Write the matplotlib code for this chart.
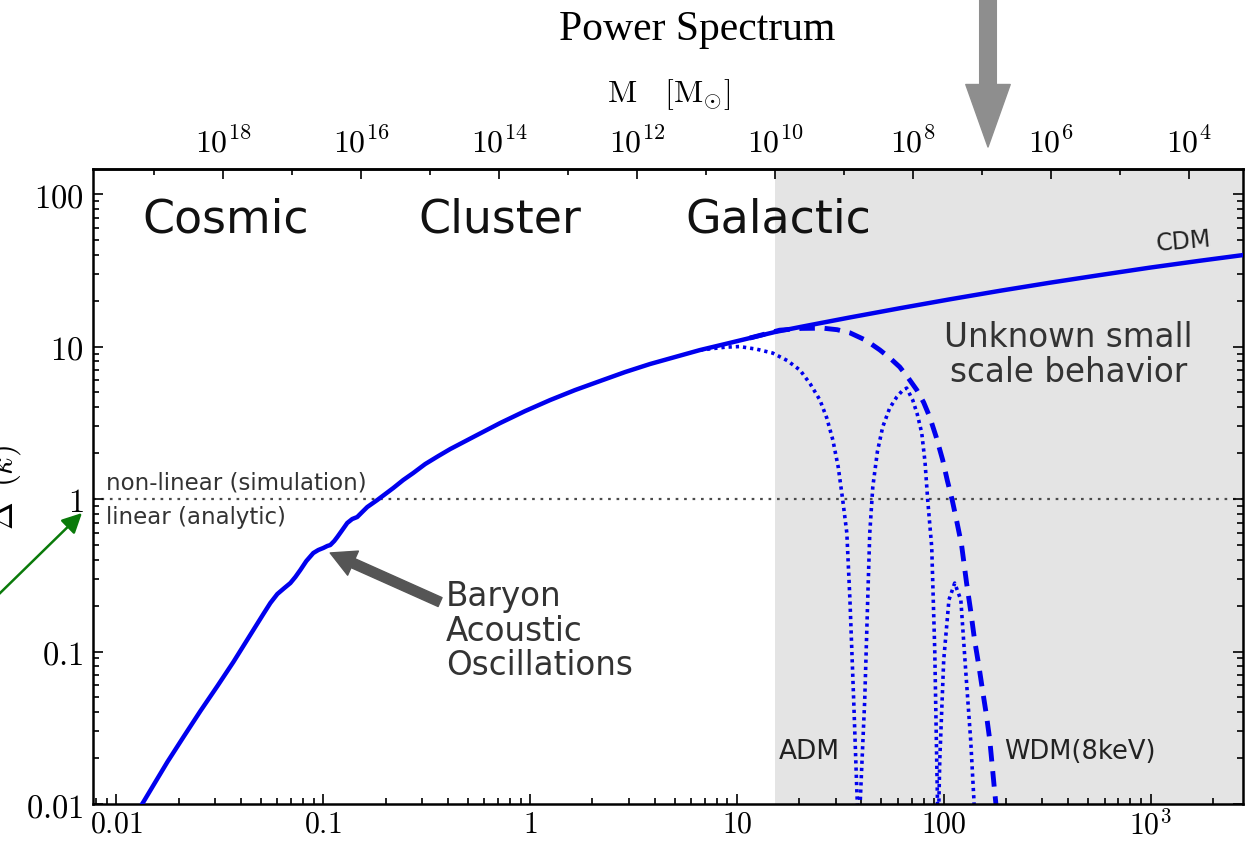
import numpy as np
import matplotlib.pyplot as plt
from matplotlib.ticker import FixedLocator, NullFormatter

plt.rcParams['mathtext.fontset'] = 'cm'

# linear matter power spectrum, Delta^2(k)
cdm_k = [0.0128, 0.01349, 0.01542, 0.01762, 0.02107, 0.02546, 0.03077, 0.03675,
         0.04343, 0.05131, 0.05546, 0.05996, 0.06482, 0.06931, 0.07326, 0.07745,
         0.08278, 0.08948, 0.09461, 0.1000, 0.1046, 0.1081, 0.1130, 0.1169,
         0.1236, 0.1306, 0.1380, 0.1459, 0.1543, 0.1632, 0.1824, 0.1994, 0.2180,
         0.2434, 0.272, 0.311, 0.360, 0.411, 0.542, 0.716, 0.946, 1.250, 1.650,
         2.179, 2.877, 3.80, 5.01, 6.62, 8.75, 11.55, 15.26, 20.15, 26.6, 35.2,
         46.4, 61.3, 107, 186.7, 325, 567, 989, 1725, 2800]
cdm_d = [0.0092, 0.01030, 0.01394, 0.01885, 0.02748, 0.04073, 0.05940, 0.08536,
         0.1227, 0.1762, 0.2080, 0.2383, 0.2608, 0.2812, 0.3080, 0.3423,
         0.3919, 0.4425, 0.4632, 0.4775, 0.4921, 0.4992, 0.5306, 0.5636,
         0.6266, 0.6966, 0.7394, 0.7620, 0.8222, 0.8864, 0.9850, 1.0785, 1.181,
         1.332, 1.48, 1.696, 1.914, 2.127, 2.588, 3.149, 3.775, 4.457, 5.184,
         5.94, 6.80, 7.68, 8.53, 9.48, 10.38, 11.37, 12.45, 13.42, 14.43, 15.52,
         16.63, 17.83, 20.4, 23.2, 26.2, 29.4, 32.9, 36.5, 39.8]

# atomic dark matter (oscillating cut-off)
adm_k = [6.62, 8.75, 10.3, 12.5, 14.9, 17.5, 20.2, 22.6, 25.2, 27.2, 29.1, 30.9,
         32.5, 34.0, 35.2, 36.7, 38.0, 38.8, 39.7, 41.5, 42.9, 43.9, 45.4, 47.8,
         50.7, 54.8, 59.3, 62.8, 66.2, 70.8, 74.5, 78.3, 81.2, 83.7, 87.5, 90.5,
         92.5, 94.0, 95.7, 100, 106, 113, 121, 128, 135, 140, 142]
adm_d = [9.48, 9.9, 10.0, 9.6, 9.06, 8.1, 7.0, 5.7, 4.46, 3.4, 2.44, 1.62,
         0.98, 0.60, 0.218, 0.048, 0.0124, 0.006, 0.0124, 0.048, 0.218, 0.60,
         1.2, 2.05, 2.97, 3.95, 4.67, 5.1, 5.34, 4.46, 3.6, 2.71, 1.75, 0.98,
         0.484, 0.102, 0.0194, 0.006, 0.0194, 0.088, 0.218, 0.281, 0.218, 0.072,
         0.0263, 0.0106, 0.006]

# warm dark matter, 8 keV
wdm_k = [11.55, 16.1, 20.5, 26.0, 30.5, 35.2, 42.0, 49.1, 55.0, 61.3, 67.5, 74.1,
         80.0, 85.6, 92.0, 98.9, 104, 110, 116, 122, 129, 135, 141, 148, 154,
         161, 167, 176, 182]
wdm_d = [11.37, 12.8, 13.15, 13.2, 12.9, 12.3, 11.0, 9.5, 8.4, 7.34, 6.2, 5.19,
         4.3, 3.45, 2.55, 1.80, 1.33, 0.98, 0.70, 0.50, 0.281, 0.185, 0.119,
         0.080, 0.056, 0.038, 0.0263, 0.0124, 0.0079]

k_ticks = [0.01, 0.1, 1, 10, 100, 1000]
k_labels = ['$0.01$', '$0.1$', '$1$', '$10$', '$100$', '$10^3$']
d_ticks = [0.01, 0.1, 1, 10, 100]
d_labels = ['$0.01$', '$0.1$', '$1$', '$10$', '$100$']
m_major = [1e18, 1e16, 1e14, 1e12, 1e10, 1e8, 1e6, 1e4]
m_minor = [1e19, 1e17, 1e15, 1e13, 1e11, 1e9, 1e7, 1e5]

MK3 = 3.56e13  # M [Msun] * k^3


def k_to_m(k):
    k = np.asarray(k, dtype=float)
    with np.errstate(divide='ignore'):
        return MK3 / k**3


def m_to_k(m):
    m = np.asarray(m, dtype=float)
    with np.errstate(divide='ignore'):
        return (MK3 / m) ** (1 / 3)


W, H = 1245, 844
fig = plt.figure(figsize=(W / 100, H / 100), dpi=100)
ax = fig.add_axes([93 / W, 1 - 804 / H, 1150 / W, 635 / H])
ax.set_xscale('log')
ax.set_yscale('log')
ax.set_xlim(0.0077, 2800)
ax.set_ylim(0.01, 146)

ax.axvspan(float(m_to_k(1e10)), 2800, color='#e4e4e4', lw=0, zorder=0)
ax.axhline(1, color='#4a4a4a', lw=1.6, ls=(0, (1.2, 2.6)), zorder=1)

blue = '#0000ee'
ax.plot(adm_k, adm_d, color=blue, lw=2.6, ls=(0, (0.9, 1.1)), zorder=2)
ax.plot(wdm_k, wdm_d, color=blue, lw=3.5, ls=(0, (3.2, 2.0)), zorder=2)
ax.plot(cdm_k, cdm_d, color=blue, lw=3.2, zorder=3, solid_joinstyle='round')

for spine in ax.spines.values():
    spine.set_linewidth(1.8)

ax.set_xticks(k_ticks)
ax.set_xticklabels(k_labels)
ax.set_yticks(d_ticks)
ax.set_yticklabels(d_labels)
ax.xaxis.set_minor_formatter(NullFormatter())
ax.yaxis.set_minor_formatter(NullFormatter())
ax.tick_params(which='both', direction='in', top=False, right=True,
               labelsize=23.5, width=1.2)
ax.tick_params(which='major', length=7)
ax.tick_params(which='minor', length=4)
ax.tick_params(axis='x', labelsize=21.5, pad=4)
ax.tick_params(axis='y', pad=7)

secax = ax.secondary_xaxis('top', functions=(k_to_m, m_to_k))
secax.xaxis.set_major_locator(FixedLocator(m_major))
secax.xaxis.set_minor_locator(FixedLocator(m_minor))
secax.set_xticklabels(['$10^{%d}$' % int(round(np.log10(m))) for m in m_major])
secax.xaxis.set_minor_formatter(NullFormatter())
secax.tick_params(which='both', direction='in', labelsize=23, width=1.2, pad=7)
secax.tick_params(which='major', length=7)
secax.tick_params(which='minor', length=4)
secax.spines['top'].set_linewidth(1.8)

# scale regimes
for name, kx in [('Cosmic', 0.0336), ('Cluster', 0.716), ('Galactic', 15.9)]:
    ax.text(kx, 56, name, fontsize=33, color='#111111', ha='center',
            va='baseline')

ax.text(402, 8.8, 'Unknown small\nscale behavior', fontsize=23.5,
        color='#333333', ha='center', va='center', multialignment='center',
        linespacing=1.05)
ax.text(0.393, 0.136, 'Baryon\nAcoustic\nOscillations', fontsize=23.5,
        color='#333333', ha='left', va='center', linespacing=1.05)
ax.text(1443, 48.4, 'CDM', fontsize=17, color='#222222', ha='center',
        va='center', rotation=5)
ax.text(31.4, 0.0219, 'ADM', fontsize=19, color='#222222', ha='right',
        va='center')
ax.text(197, 0.0219, 'WDM(8keV)', fontsize=18.5, color='#222222', ha='left',
        va='center')
ax.text(0.00885, 1.27, 'non-linear (simulation)', fontsize=16.5,
        color='#333333', ha='left', va='center')
ax.text(0.00885, 0.762, 'linear (analytic)', fontsize=16.5,
        color='#333333', ha='left', va='center')

ax.annotate('', xy=(0.108, 0.443), xytext=(0.367, 0.211),
            arrowprops=dict(arrowstyle='simple,head_length=1.8,head_width=1.9,'
                            'tail_width=0.7', mutation_scale=10,
                            color='#555555', shrinkA=0, shrinkB=0))

# labels outside the frame
fig.text(26 / W, 1 - 487 / H, r'$\Delta^2(k)$', fontsize=24, rotation=90,
         ha='right', va='center')
fig.text(669 / W, 1 - 95 / H, r'$\mathrm{M}\ \ \ [\mathrm{M}_{\odot}]$',
         fontsize=23, ha='center', va='center')
fig.text(697 / W, 1 - 30 / H, 'Power Spectrum', fontsize=30,
         family='Liberation Serif', ha='center', va='center')

fig.add_artist(plt.matplotlib.patches.FancyArrowPatch(
    (988, H + 5), (988, H - 147), transform=None,
    arrowstyle='simple,head_length=4.5,head_width=3.2,tail_width=1.2',
    mutation_scale=10, color='#8e8e8e', shrinkA=0, shrinkB=0))
fig.add_artist(plt.matplotlib.patches.FancyArrowPatch(
    (-5, H - 598), (82, H - 513), transform=None,
    arrowstyle='-|>,head_length=0.6,head_width=0.3', mutation_scale=20,
    lw=1.8, color='#0a7a0a', shrinkA=0, shrinkB=0))

fig.savefig('out.png', dpi=100)
